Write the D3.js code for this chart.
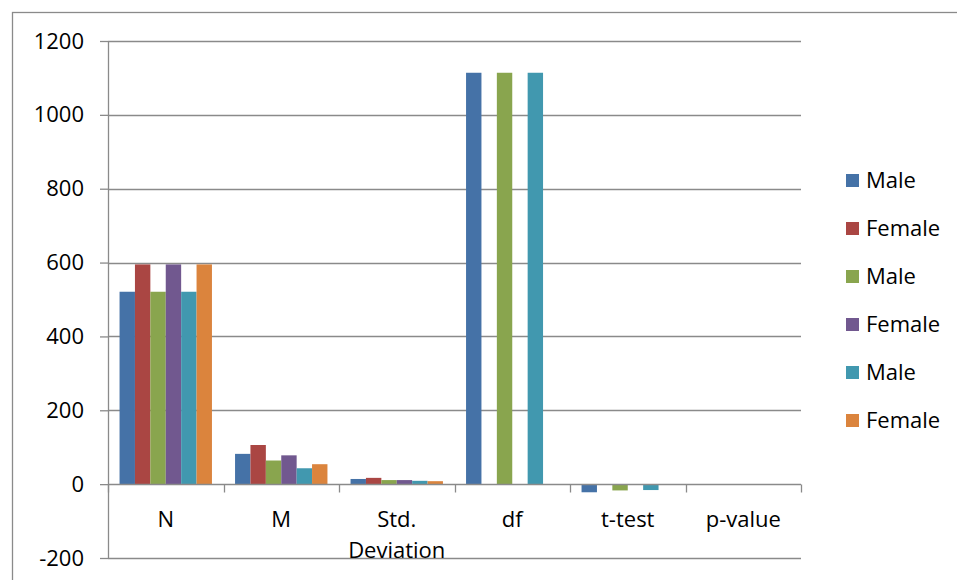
<!DOCTYPE html>
<html>
<head>
<meta charset="utf-8">
<script src="https://cdn.jsdelivr.net/npm/d3@7/dist/d3.min.js"></script>
<style>
  html, body { margin: 0; padding: 0; background: #ffffff; }
  svg { display: block; }
  text { font-family: "Open Sans", "Noto Sans", sans-serif; fill: #000; }
</style>
</head>
<body>
<svg id="chart" width="957" height="580"></svg>
<script>
// Group comparison summary: statistics per gender, three samples
const categories = ["N", "M", "Std. Deviation", "df", "t-test", "p-value"];
const seriesNames = ["Male", "Female", "Male", "Female", "Male", "Female"];
const seriesColors = ["#4572A7", "#AA4643", "#89A54E", "#71588F", "#4198AF", "#DB843D"];
const yTicks = [-200, 0, 200, 400, 600, 800, 1000, 1200];

// values per series, in category order (null = not reported)
const male1   = [521, 82, 14, 1114, -22, 0];
const female1 = [595, 106, 17, null, null, null];
const male2   = [521, 64, 11, 1114, -17, 0];
const female2 = [595, 78, 11, null, null, null];
const male3   = [521, 43, 9, 1114, -16, 0];
const female3 = [595, 54, 8, null, null, null];
const seriesValues = [male1, female1, male2, female2, male3, female3];

const svg = d3.select("#chart");
const plot = { left: 108, right: 801, top: 41, bottom: 558 };
const gridColor = "#8a8a8a";

// outer chart frame
svg.append("rect")
  .attr("x", 12.5).attr("y", 12.5)
  .attr("width", 1000).attr("height", 1000)
  .attr("fill", "none").attr("stroke", gridColor).attr("stroke-width", 1.3);

const y = d3.scaleLinear().domain([-200, 1200]).range([plot.bottom, plot.top]);
const x0 = d3.scaleBand().domain(categories).range([plot.left, plot.right]).padding(0);
const seriesIdx = d3.range(seriesNames.length);
const x1 = d3.scaleBand().domain(seriesIdx).range([0, x0.bandwidth()])
  .paddingInner(0).paddingOuter(0.75);

// horizontal gridlines + left ticks (plain hyphen for negatives)
const yAxis = d3.axisLeft(y).tickValues(yTicks).tickSize(8).tickPadding(16)
  .tickFormat(d => String(d));
const yG = svg.append("g").attr("transform", `translate(${plot.left},0)`).call(yAxis);
yG.select(".domain").attr("stroke", gridColor).attr("stroke-width", 1.3)
  .attr("d", `M0.5,${plot.top}V${plot.bottom}`);
yG.selectAll(".tick line").attr("stroke", gridColor).attr("stroke-width", 1.3);
yG.selectAll(".tick text").style("font-size", "22px").attr("fill", "#000");

svg.append("g").selectAll("line")
  .data(yTicks.filter(d => d !== 0))
  .join("line")
  .attr("x1", plot.left).attr("x2", plot.right)
  .attr("y1", d => Math.round(y(d)) + 0.5).attr("y2", d => Math.round(y(d)) + 0.5)
  .attr("stroke", gridColor).attr("stroke-width", 1.3);

// bars
const groups = svg.append("g").selectAll("g")
  .data(categories)
  .join("g")
  .attr("transform", d => `translate(${x0(d)},0)`);

groups.selectAll("rect")
  .data((c, ci) => seriesIdx.map(si => ({ si, v: seriesValues[si][ci] })).filter(d => d.v !== null))
  .join("rect")
  .attr("x", d => x1(d.si))
  .attr("width", x1.bandwidth())
  .attr("y", d => y(Math.max(0, d.v)))
  .attr("height", d => Math.abs(y(d.v) - y(0)))
  .attr("fill", d => seriesColors[d.si]);

// category axis on the zero line
const xAxis = d3.axisBottom(x0).tickSize(0).tickPadding(0).tickFormat("");
const xG = svg.append("g").attr("transform", `translate(0,${Math.round(y(0)) + 0.5})`).call(xAxis);
xG.select(".domain").attr("stroke", gridColor).attr("stroke-width", 1.3)
  .attr("d", `M${plot.left},0H${plot.right}`);
xG.selectAll(".tick").remove();

// boundary ticks between categories
const bounds = categories.map(c => x0(c)).concat([x0(categories[categories.length - 1]) + x0.bandwidth()]);
xG.selectAll("line.sep").data(bounds).join("line").attr("class", "sep")
  .attr("x1", d => Math.round(d) + 0.5).attr("x2", d => Math.round(d) + 0.5)
  .attr("y1", 0).attr("y2", 8)
  .attr("stroke", gridColor).attr("stroke-width", 1.3);

// category labels (long labels wrap onto two lines)
const labelLines = { "Std. Deviation": ["Std.", "Deviation"] };
const labels = svg.append("g").selectAll("text")
  .data(categories)
  .join("text")
  .attr("x", d => x0(d) + x0.bandwidth() / 2)
  .attr("y", 527)
  .attr("text-anchor", "middle")
  .style("font-size", "22px");
labels.each(function (d) {
  const lines = labelLines[d] || [d];
  d3.select(this).selectAll("tspan").data(lines).join("tspan")
    .attr("x", x0(d) + x0.bandwidth() / 2)
    .attr("dy", (l, i) => i === 0 ? 0 : 31)
    .text(l => l);
});

// legend
const legend = svg.append("g").selectAll("g")
  .data(seriesIdx)
  .join("g")
  .attr("transform", i => `translate(846,${180 + i * 48})`);
legend.append("rect")
  .attr("x", 0).attr("y", -6).attr("width", 13).attr("height", 13)
  .attr("fill", i => seriesColors[i]);
legend.append("text")
  .attr("x", 20).attr("y", 8)
  .style("font-size", "22px")
  .text(i => seriesNames[i]);
</script>
</body>
</html>
